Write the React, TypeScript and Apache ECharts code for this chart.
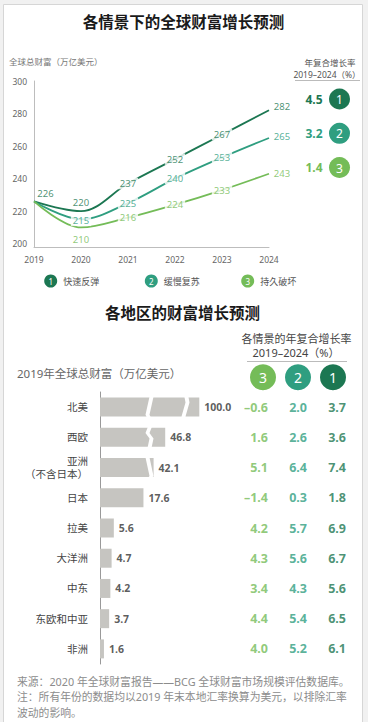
import React, { useEffect, useRef } from 'react';
import * as echarts from 'echarts';

// ---------- data: scenario chart ----------
const years = ['2019', '2020', '2021', '2022', '2023', '2024'];
const rapidRebound = [226, 220, 237, 252, 267, 282];
const slowRecovery = [226, 215, 225, 240, 253, 265];
const prolongedDamage = [226, 210, 216, 224, 233, 243];
const scenarioNames = ['快速反弹', '缓慢复苏', '持久破坏'];
const scenarioNumbers = ['1', '2', '3'];
const scenarioCagr = [4.5, 3.2, 1.4];
const yTicks = [200, 220, 240, 260, 280, 300];

// ---------- data: regions ----------
const regions = ['北美', '西欧', '亚洲\n（不含日本）', '日本', '拉美', '大洋洲', '中东', '东欧和中亚', '非洲'];
const wealth2019 = [100.0, 46.8, 42.1, 17.6, 5.6, 4.7, 4.2, 3.7, 1.6];
const cagrS3 = [-0.6, 1.6, 5.1, -1.4, 4.2, 4.3, 3.4, 4.4, 4.0];
const cagrS2 = [2.0, 2.6, 6.4, 0.3, 5.7, 5.6, 4.3, 5.4, 5.2];
const cagrS1 = [3.7, 3.6, 7.4, 1.8, 6.9, 6.7, 5.6, 6.5, 6.1];
const tableCols = ['3', '2', '1'];

const C1 = '#1c7752';
const C2 = '#2f9e80';
const C3 = '#74bc58';
const FONT = '"Noto Sans", "Noto Sans CJK SC", sans-serif';

const fmt = (v: number) => (v < 0 ? '–' + Math.abs(v).toFixed(1) : v.toFixed(1));

export default function App() {
  const ref = useRef<HTMLDivElement>(null);
  useEffect(() => {
    const el = ref.current!;
    const chart = echarts.init(el, null, { renderer: 'svg', width: 368, height: 722 });

    const lineSeries = [rapidRebound, slowRecovery, prolongedDamage].map((d, k) => ({
      type: 'line',
      xAxisIndex: 0,
      yAxisIndex: 0,
      data: d,
      smooth: 0.35,
      symbol: 'none',
      lineStyle: { width: 1.8, color: [C1, C2, C3][k] },
      z: 2,
    }));

    const offsets = [
      [[11.5, -8], [0, -9], [0, 0], [0, 0], [0, 0], [13, -4]],
      [[0, 0], [0, 1], [0, 0], [0, 0], [0, 0], [13, -1]],
      [[0, 0], [0, 12], [0, 0], [0, 0], [0, 0], [13, 0]],
    ];
    const labelSeries = [rapidRebound, slowRecovery, prolongedDamage].map((d, k) => ({
      type: 'scatter',
      xAxisIndex: 0,
      yAxisIndex: 0,
      symbolSize: 1,
      itemStyle: { color: 'rgba(0,0,0,0)' },
      z: 10,
      data: d.map((v, i) => ({
        value: [i, v],
        label: { show: !(k > 0 && i === 0), offset: offsets[k][i] },
      })),
      label: {
        show: true,
        position: 'inside',
        formatter: (p: any) => String(p.value[1]),
        color: [C1, C2, C3][k],
        fontSize: 9.5,
        fontFamily: FONT,
        backgroundColor: '#fff',
        padding: [1, 2],
      },
    }));

    const barSeries = {
      type: 'bar',
      xAxisIndex: 1,
      yAxisIndex: 1,
      data: wealth2019,
      barWidth: 19,
      itemStyle: { color: '#c6c5c1' },
      z: 2,
    };
    const barLabelSeries = {
      type: 'scatter',
      xAxisIndex: 1,
      yAxisIndex: 1,
      symbolSize: 1,
      itemStyle: { color: 'rgba(0,0,0,0)' },
      z: 150,
      data: wealth2019.map((v, i) => [v, i]),
      label: {
        show: true,
        position: 'right',
        distance: 4.5,
        formatter: (p: any) => Number(p.value[0]).toFixed(1),
        color: '#333',
        fontSize: 10.5,
        fontWeight: 'bold',
        fontFamily: FONT,
      },
    };

    const tableSeries = [cagrS3, cagrS2, cagrS1].map((d, c) => ({
      type: 'scatter',
      xAxisIndex: 2,
      yAxisIndex: 2,
      symbolSize: 1,
      itemStyle: { color: 'rgba(0,0,0,0)' },
      data: d.map((v, i) => [c, i, v]),
      label: {
        show: true,
        position: 'inside',
        align: 'right',
        offset: [9, 0],
        formatter: (p: any) => fmt(p.value[2]),
        color: [C3, C2, C1][c],
        fontSize: 12.5,
        fontWeight: 'bold',
        fontFamily: FONT,
      },
    }));

    const txt = (text: string, x: number, y: number, o: any = {}) => ({
      type: 'text',
      x,
      y,
      z: 20,
      style: {
        text,
        fill: o.fill || '#555',
        fontSize: o.fontSize || 9,
        fontWeight: o.fontWeight || 'normal',
        fontFamily: FONT,
        align: o.align || 'left',
        verticalAlign: 'middle',
      },
    });
    const circ = (cx: number, cy: number, r: number, color: string, num: string, fs: number) => [
      { type: 'circle', z: 20, shape: { cx, cy, r }, style: { fill: color } },
      txt(num, cx, cy + 0.5, { fill: '#fff', fontSize: fs, align: 'center' }),
    ];

    const graphics: any[] = [
      {
        type: 'rect',
        z: 0,
        shape: { x: 3.5, y: 4.5, width: 359, height: 740 },
        style: { fill: '#fff', stroke: '#d6d6d6', lineWidth: 1 },
      },
      txt('各情景下的全球财富增长预测', 183.5, 22, { fill: '#1a1a1a', fontSize: 15.5, fontWeight: 'bold', align: 'center' }),
      txt('全球总财富（万亿美元）', 9, 61, { fill: '#777', fontSize: 8.5 }),
      txt('年复合增长率', 330, 62.3, { fill: '#555', fontSize: 8.5, align: 'center' }),
      txt('2019–2024（%）', 327, 74, { fill: '#555', fontSize: 8.5, align: 'center' }),
      { type: 'line', z: 20, shape: { x1: 295, y1: 80.5, x2: 360, y2: 80.5 }, style: { stroke: '#bbb', lineWidth: 1 } },
      txt('各地区的财富增长预测', 182.5, 312.7, { fill: '#1a1a1a', fontSize: 15.5, fontWeight: 'bold', align: 'center' }),
      txt('各情景的年复合增长率', 296.5, 338.5, { fill: '#444', fontSize: 11, align: 'center' }),
      txt('2019–2024（%）', 296, 352.3, { fill: '#444', fontSize: 11, align: 'center' }),
      { type: 'line', z: 20, shape: { x1: 247, y1: 361.5, x2: 347, y2: 361.5 }, style: { stroke: '#bbb', lineWidth: 1 } },
      txt('2019年全球总财富（万亿美元）', 17, 373.3, { fill: '#666', fontSize: 11.5 }),
      txt('来源：2020 年全球财富报告——BCG 全球财富市场规模评估数据库。', 17, 681.7, { fill: '#8c8c8c', fontSize: 10.8 }),
      txt('注：所有年份的数据均以2019 年末本地汇率换算为美元，以排除汇率', 17, 696.7, { fill: '#8c8c8c', fontSize: 10.8 }),
      txt('波动的影响。', 17, 712, { fill: '#8c8c8c', fontSize: 10.8 }),
    ];
    const colors = [C1, C2, C3];
    const rowY = [99, 133.3, 167.5];
    scenarioCagr.forEach((v, k) => {
      graphics.push(txt(v.toFixed(1), 314, rowY[k], { fill: colors[k], fontSize: 12, fontWeight: 'bold', align: 'center' }));
      graphics.push(...circ(339.5, rowY[k], 10.5, colors[k], scenarioNumbers[k], 12));
    });
    const legX = [50.7, 151.3, 247.7];
    scenarioNames.forEach((n, k) => {
      graphics.push(...circ(legX[k], 281, 6.5, colors[k], scenarioNumbers[k], 8));
      graphics.push(txt(n, legX[k] + 12.5, 281, { fill: '#555', fontSize: 9 }));
    });
    const headX = [263, 298, 333];
    tableCols.forEach((n, c) => {
      graphics.push(...circ(headX[c], 377.3, 13, [C3, C2, C1][c], n, 14));
    });

    const option: any = {
      animation: false,
      textStyle: { fontFamily: FONT },
      grid: [
        { left: 34, top: 81, width: 235, height: 166 },
        { left: 100, top: 392, width: 99.3, height: 272 },
        { left: 239.5, top: 392, width: 117, height: 272 },
      ],
      xAxis: [
        {
          type: 'category',
          gridIndex: 0,
          data: years,
          boundaryGap: false,
          axisLine: { lineStyle: { color: '#bdbdbd', width: 1 } },
          axisTick: { show: false },
          axisLabel: { color: '#666', fontSize: 8.5, margin: 8 },
          splitLine: { show: false },
        },
        {
          type: 'value',
          gridIndex: 1,
          min: 0,
          max: 100,
          axisLine: { show: false },
          axisTick: { show: false },
          axisLabel: { show: false },
          splitLine: { show: false },
          breaks: [
            { start: 19, end: 41, gap: '4%' },
            { start: 54, end: 95, gap: '4%' },
          ],
          breakArea: {
            show: true,
            expandOnClick: false,
            zigzagAmplitude: 2,
            zigzagZ: 5,
            itemStyle: { color: '#fff', borderColor: '#fff', borderWidth: 0, opacity: 1 },
          },
        },
        {
          type: 'category',
          gridIndex: 2,
          data: tableCols,
          show: false,
        },
      ],
      yAxis: [
        {
          type: 'value',
          gridIndex: 0,
          min: 198,
          max: 300,
          axisLine: { show: true, lineStyle: { color: '#bdbdbd', width: 1 } },
          axisTick: { show: false },
          axisLabel: { color: '#666', fontSize: 8.5, margin: 7, customValues: yTicks },
          splitLine: { show: false },
        },
        {
          type: 'category',
          gridIndex: 1,
          data: regions,
          inverse: true,
          axisLine: { show: true, lineStyle: { color: '#999', width: 1 } },
          axisTick: { show: false },
          axisLabel: { color: '#444', fontSize: 10.5, margin: 12, lineHeight: 12.5 },
        },
        {
          type: 'category',
          gridIndex: 2,
          data: regions,
          inverse: true,
          show: false,
        },
      ],
      graphic: graphics,
      series: [...lineSeries, ...labelSeries, barSeries, barLabelSeries, ...tableSeries],
    };
    chart.setOption(option);
    return () => chart.dispose();
  }, []);
  return (
    <div style={{ position: 'fixed', left: 0, top: 0, width: 368, height: 722, background: '#f1f1f1' }}>
      <div ref={ref} style={{ width: 368, height: 722 }} />
    </div>
  );
}
